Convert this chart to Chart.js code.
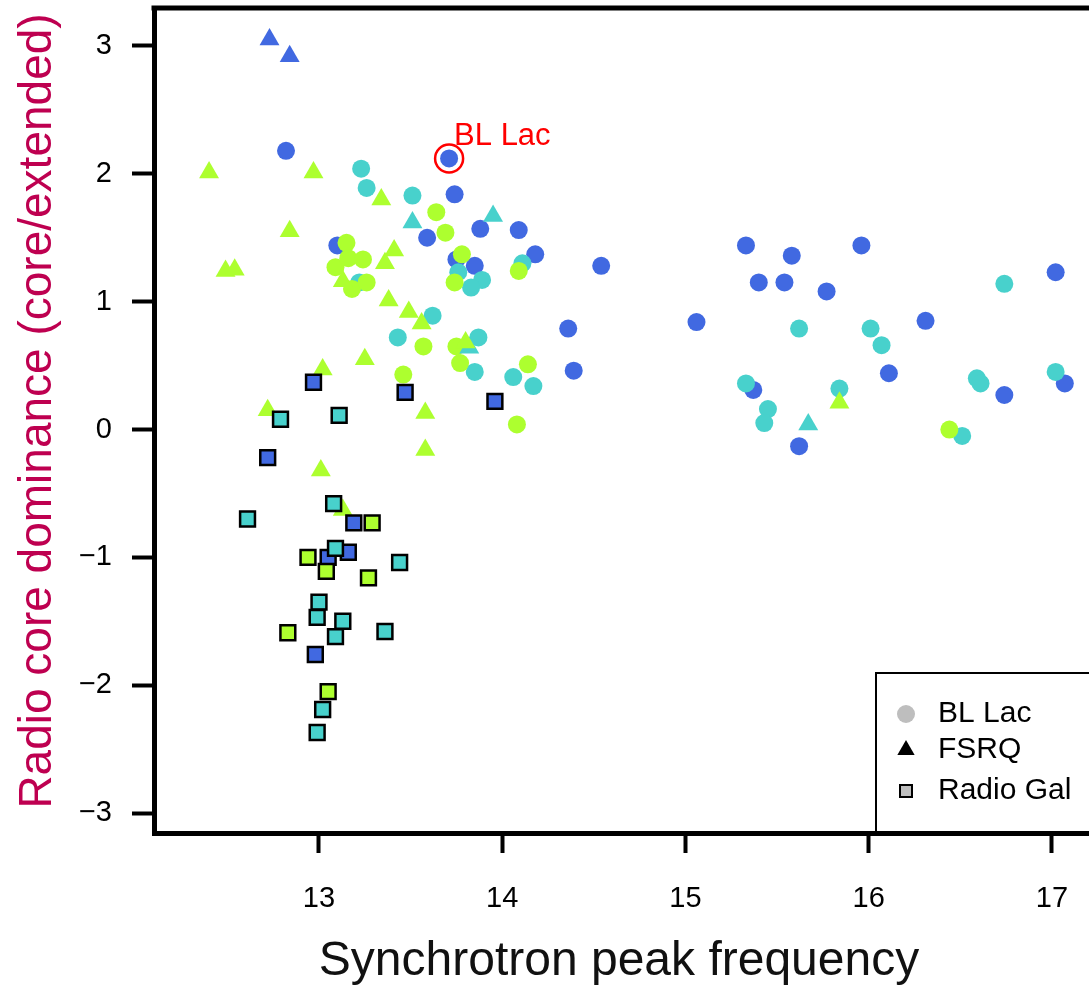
<!DOCTYPE html>
<html><head><meta charset="utf-8">
<script src="https://cdn.jsdelivr.net/npm/chart.js@4.4.1/dist/chart.umd.min.js"></script>
<style>html,body{margin:0;padding:0;background:#fff;overflow:hidden}canvas{display:block}</style>
</head><body>
<canvas id="c" width="1089" height="986"></canvas>
<script>
// ---- tick labels ----
const xTicks = [13, 14, 15, 16, 17];
const yTicks = [-3, -2, -1, 0, 1, 2, 3];

// ---- BL Lac (circles) ----
const bllacBlueX = [12.82,13.71,13.74,13.59,13.10,13.88,14.09,13.75,13.85,14.18,14.54,14.36,14.39,15.06,15.33,15.40,15.54,15.58,15.77,15.96,16.31,16.11,15.37,15.62,16.74,17.02,17.07];
const bllacBlueY = [2.18,2.12,1.84,1.50,1.44,1.57,1.56,1.33,1.28,1.37,1.28,0.79,0.46,0.84,1.44,1.15,1.15,1.36,1.08,1.44,0.85,0.44,0.31,-0.13,0.27,1.23,0.36];
const bllacCyanX = [13.23,13.26,13.51,13.62,13.43,13.76,13.89,13.83,13.22,14.11,13.87,13.85,14.06,14.17,15.33,15.45,15.43,15.62,15.84,16.01,16.07,16.74,16.59,16.61,17.02,16.51];
const bllacCyanY = [2.04,1.89,1.83,0.89,0.72,1.23,1.17,1.11,1.15,1.30,0.72,0.45,0.41,0.34,0.36,0.16,0.05,0.79,0.32,0.79,0.66,1.14,0.40,0.36,0.45,-0.05];
const bllacGreenX = [13.64,13.69,13.15,13.09,13.16,13.24,13.18,13.26,13.78,14.09,13.74,13.57,13.75,13.77,14.14,13.46,14.08,16.44];
const bllacGreenY = [1.70,1.54,1.46,1.27,1.34,1.33,1.10,1.15,1.37,1.24,1.15,0.65,0.65,0.52,0.51,0.43,0.04,0.00];

// ---- FSRQ (triangles) ----
const fsrqBlueX = [12.73,12.84];
const fsrqBlueY = [3.05,2.92];
const fsrqCyanX = [13.51,13.95,13.82,15.67];
const fsrqCyanY = [1.62,1.67,0.64,0.04];
const fsrqGreenX = [12.40,12.97,13.34,12.84,12.49,12.54,13.41,13.36,13.13,13.38,13.49,13.56,13.80,13.25,13.02,12.72,13.58,13.58,13.01,13.13,15.84];
const fsrqGreenY = [2.01,2.01,1.80,1.55,1.24,1.25,1.40,1.30,1.16,1.01,0.92,0.83,0.68,0.55,0.47,0.15,0.13,-0.16,-0.32,-0.63,0.21];

// ---- Radio galaxies (squares) ----
const rgBlueX = [12.97,13.47,13.96,12.72,13.19,13.16,13.05,12.98];
const rgBlueY = [0.37,0.29,0.22,-0.22,-0.73,-0.96,-1.00,-1.76];
const rgCyanX = [12.79,13.11,13.08,12.61,13.09,13.44,13.00,12.99,13.13,13.09,13.36,13.02,12.99];
const rgCyanY = [0.08,0.11,-0.58,-0.70,-0.93,-1.04,-1.35,-1.47,-1.50,-1.62,-1.58,-2.19,-2.37];
const rgGreenX = [13.29,12.94,13.04,13.27,12.83,13.05];
const rgGreenY = [-0.73,-1.00,-1.11,-1.16,-1.59,-2.05];

// ---- annotation ----
const annotX = [13.71];
const annotY = [2.12];
const annotText = ['BL Lac'];
const legendLabels = ['BL Lac', 'FSRQ', 'Radio Gal'];

const BLUE = '#4169E1', CYAN = '#48D1CC', GREEN = '#ADFF2F';
const FONT = "'Liberation Sans', Arial, Helvetica, sans-serif";

function mk(label, xs, ys, style, color, radius, order, border) {
  return {
    label, data: xs.map((x, i) => ({x, y: ys[i]})),
    pointStyle: style, pointRadius: radius, pointHoverRadius: radius,
    backgroundColor: color, borderColor: border ? '#000' : color,
    borderWidth: border ? 2.5 : 0, hoverBorderWidth: border ? 2.5 : 0,
    showLine: false, order
  };
}

function noPad(s) { s.paddingTop = 0; s.paddingBottom = 0; s.paddingLeft = 0; s.paddingRight = 0; }

const decor = {
  id: 'decor',
  afterDraw(chart) {
    const {ctx, chartArea: a, scales: {x, y}} = chart;
    ctx.save();
    // top frame line
    ctx.strokeStyle = '#000'; ctx.lineWidth = 5; ctx.lineCap = 'butt';
    ctx.beginPath(); ctx.moveTo(a.left - 2.5, a.top); ctx.lineTo(a.right + 10, a.top); ctx.stroke();

    // annotation
    for (let i = 0; i < annotX.length; i++) {
      const px = x.getPixelForValue(annotX[i]), py = y.getPixelForValue(annotY[i]);
      ctx.strokeStyle = '#FF0000'; ctx.lineWidth = 2.5;
      ctx.beginPath(); ctx.arc(px, py, 14, 0, Math.PI * 2); ctx.stroke();
      ctx.fillStyle = '#FF0000'; ctx.font = '31px ' + FONT;
      ctx.textAlign = 'left'; ctx.textBaseline = 'alphabetic';
      ctx.fillText(annotText[i], px + 5, py - 13);
    }

    // legend
    ctx.strokeStyle = '#000'; ctx.lineWidth = 2;
    ctx.beginPath();
    ctx.moveTo(1100, 673); ctx.lineTo(876, 673); ctx.lineTo(876, a.bottom); ctx.stroke();
    const rows = [714, 750, 791];
    const sx = 906;
    ctx.fillStyle = '#BEBEBE';
    ctx.beginPath(); ctx.arc(sx, rows[0], 9, 0, Math.PI * 2); ctx.fill();
    ctx.fillStyle = '#000';
    const r = 10;
    ctx.beginPath();
    ctx.moveTo(sx, rows[1] - r);
    ctx.lineTo(sx + 0.866 * r, rows[1] + 0.5 * r);
    ctx.lineTo(sx - 0.866 * r, rows[1] + 0.5 * r);
    ctx.closePath(); ctx.fill();
    ctx.fillStyle = '#BEBEBE'; ctx.strokeStyle = '#000'; ctx.lineWidth = 2;
    ctx.fillRect(sx - 6, rows[2] - 6, 12, 12);
    ctx.strokeRect(sx - 6, rows[2] - 6, 12, 12);
    ctx.fillStyle = '#000'; ctx.font = '30px ' + FONT;
    ctx.textAlign = 'left'; ctx.textBaseline = 'middle';
    legendLabels.forEach((t, i) => ctx.fillText(t, 938, rows[i]));

    // axis titles
    ctx.fillStyle = '#111'; ctx.font = '48px ' + FONT;
    ctx.textAlign = 'center'; ctx.textBaseline = 'alphabetic';
    ctx.fillText('Synchrotron peak frequency', 619, 975);

    ctx.save();
    ctx.translate(51, 411);
    ctx.rotate(-Math.PI / 2);
    ctx.fillStyle = '#BE0050'; ctx.font = '46px ' + FONT;
    ctx.textAlign = 'center'; ctx.textBaseline = 'alphabetic';
    ctx.fillText('Radio core dominance (core/extended)', 0, 0);
    ctx.restore();

    ctx.restore();
  }
};

new Chart(document.getElementById('c'), {
  type: 'scatter',
  data: {
    datasets: [
      mk('BL Lac', bllacBlueX, bllacBlueY, 'circle', BLUE, 9, 9, false),
      mk('BL Lac', bllacCyanX, bllacCyanY, 'circle', CYAN, 9, 8, false),
      mk('BL Lac', bllacGreenX, bllacGreenY, 'circle', GREEN, 9, 7, false),
      mk('FSRQ', fsrqBlueX, fsrqBlueY, 'triangle', BLUE, 11.5, 6, false),
      mk('FSRQ', fsrqCyanX, fsrqCyanY, 'triangle', CYAN, 11.5, 5, false),
      mk('FSRQ', fsrqGreenX, fsrqGreenY, 'triangle', GREEN, 11.5, 4, false),
      mk('Radio Gal', rgBlueX, rgBlueY, 'rect', BLUE, 10.5, 3, true),
      mk('Radio Gal', rgCyanX, rgCyanY, 'rect', CYAN, 10.5, 2, true),
      mk('Radio Gal', rgGreenX, rgGreenY, 'rect', GREEN, 10.5, 1, true)
    ]
  },
  options: {
    responsive: false,
    animation: false,
    events: [],
    layout: {autoPadding: false, padding: {top: 8, right: 0, left: 0, bottom: 0}},
    plugins: {legend: {display: false}, tooltip: {enabled: false}},
    scales: {
      x: {
        type: 'linear', position: 'bottom', min: 12.0996, max: 17.202,
        afterBuildTicks: s => { s.ticks = xTicks.map(v => ({value: v})); },
        afterFit: s => { s.height = 153; noPad(s); },
        grid: {display: true, drawOnChartArea: false, drawTicks: true, tickLength: 20, tickWidth: 4, tickColor: '#000'},
        border: {display: true, width: 5, color: '#000'},
        ticks: {font: {family: FONT, size: 29}, color: '#000', padding: 29, maxRotation: 0, autoSkip: false,
                callback: v => String(v)}
      },
      y: {
        type: 'linear', position: 'left', min: -3.156, max: 3.297,
        afterBuildTicks: s => { s.ticks = yTicks.map(v => ({value: v})); },
        afterFit: s => { s.width = 154; noPad(s); },
        grid: {display: true, drawOnChartArea: false, drawTicks: true, tickLength: 22, tickWidth: 4, tickColor: '#000'},
        border: {display: true, width: 5, color: '#000'},
        ticks: {font: {family: FONT, size: 29}, color: '#000', padding: 20, autoSkip: false,
                callback: v => v < 0 ? '\u2212' + Math.abs(v) : String(v)}
      }
    }
  },
  plugins: [decor]
});
</script>
</body></html>
